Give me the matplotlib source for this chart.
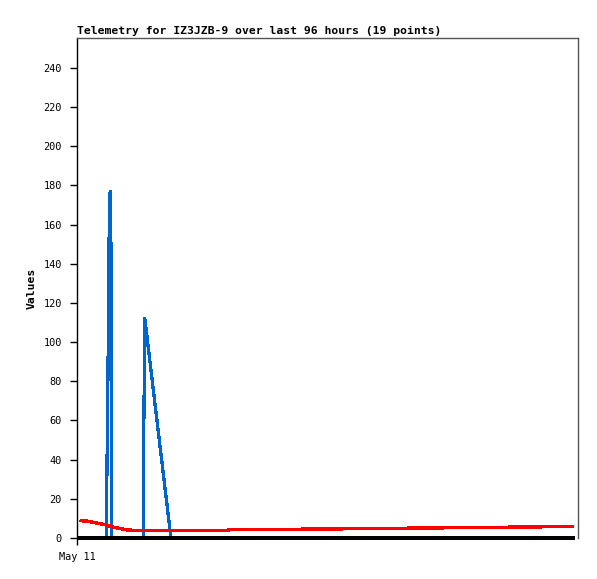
import matplotlib
matplotlib.use("Agg")
import matplotlib.pyplot as plt

# hours since start of window (May 11 00:00)
blue_x = [0.6, 5.68, 5.72, 5.95, 6.1, 6.35, 6.45, 6.6, 6.65, 12.75, 12.8, 13.0, 18.0, 95.0]
blue_y = [0, 0, 30, 88, 147, 177, 177, 88, 0, 0, 56, 112, 0, 0]

red_x = [0.8, 2.0, 3.5, 5.7, 6.9, 8.3, 9.6, 12.1, 28.7, 29.3, 47.5, 66.7, 85.5, 95.0]
red_y = [8.8, 8.6, 7.8, 6.6, 5.5, 4.8, 4.1, 3.8, 3.9, 4.2, 4.6, 5.1, 5.6, 5.9]

black_x = [0.6, 95.0]
black_y = [0, 0]

title = "Telemetry for IZ3JZB-9 over last 96 hours (19 points)"
xtick_pos = [0]
xtick_labels = ["May 11"]

mono = "DejaVu Sans Mono"

fig = plt.figure(figsize=(5.97, 5.79), dpi=100)
ax = fig.add_axes([77 / 597, 41 / 579, 501 / 597, 500 / 579])

ax.plot(blue_x, blue_y, color="#0066cc", lw=1.6, antialiased=False, zorder=2)
ax.plot(red_x, red_y, color="#ff0000", lw=1.7, antialiased=False, zorder=3)
ax.plot(black_x, black_y, color="#000000", lw=1.6, antialiased=False, zorder=4,
        clip_on=False)

ax.set_xlim(0, 96)
ax.set_ylim(0, 255.3)
ax.set_yticks(range(0, 241, 20))
ax.set_xticks(xtick_pos)
ax.set_xticklabels(xtick_labels)

for lab in ax.get_xticklabels() + ax.get_yticklabels():
    lab.set_family(mono)
    lab.set_fontsize(7.4)

ax.tick_params(axis="y", length=5, width=1, pad=6, color="#000000")
ax.tick_params(axis="x", length=5, width=1, pad=5, color="#000000")

ax.spines["bottom"].set_visible(False)
ax.spines["left"].set_color("#000000")
ax.spines["top"].set_color("#555555")
ax.spines["right"].set_color("#555555")
for s in ax.spines.values():
    s.set_linewidth(1)

ax.set_ylabel("Values", family=mono, fontsize=8.2, fontweight="bold", labelpad=5)
ax.set_title(title, family=mono, fontsize=8.2, fontweight="bold", loc="left", pad=3)

fig.savefig("out.png", dpi=100)
